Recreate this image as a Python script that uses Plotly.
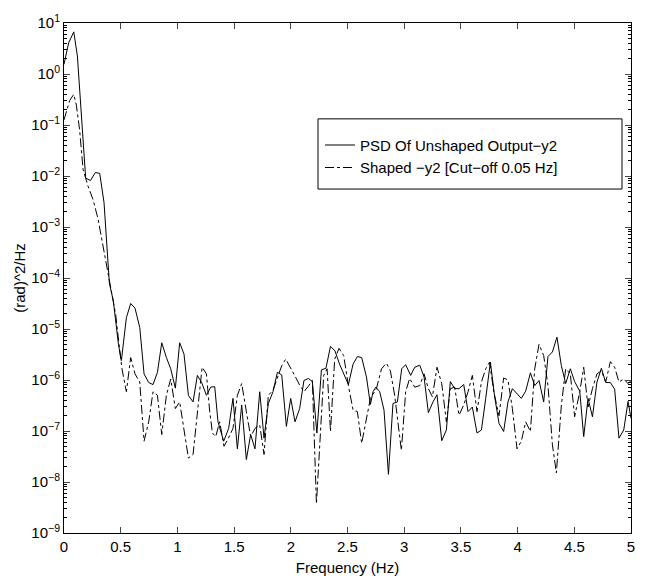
import numpy as np
import plotly.graph_objects as go

# Frequencies (Hz) and log10 PSD
freq_unshaped = [0.0, 0.041, 0.086, 0.118, 0.191, 0.233, 0.277, 0.315, 0.353, 0.40, 0.435, 0.455, 0.48,
                 0.506, 0.55, 0.588, 0.626, 0.668, 0.706, 0.747, 0.785, 0.824, 0.862, 0.903, 0.941, 0.982,
                 1.02, 1.058, 1.097, 1.138, 1.176, 1.214, 1.256, 1.294, 1.329, 1.358, 1.408, 1.452, 1.49,
                 1.529, 1.567, 1.608, 1.646, 1.684, 1.726, 1.764, 1.802, 1.843, 1.882, 1.92, 1.961, 1.999,
                 2.037, 2.078, 2.116, 2.155, 2.19, 2.23, 2.27, 2.31, 2.35, 2.39, 2.43, 2.508, 2.549, 2.587,
                 2.625, 2.667, 2.702, 2.725, 2.75, 2.784, 2.822, 2.861, 2.901, 2.94, 2.978, 3.013, 3.057,
                 3.093, 3.137, 3.175, 3.213, 3.254, 3.289, 3.331, 3.372, 3.407, 3.445, 3.483, 3.525, 3.563,
                 3.601, 3.642, 3.681, 3.719, 3.76, 3.798, 3.836, 3.877, 3.915, 3.954, 3.995, 4.033, 4.071,
                 4.113, 4.151, 4.189, 4.23, 4.268, 4.307, 4.347, 4.386, 4.424, 4.465, 4.503, 4.548, 4.583,
                 4.621, 4.66, 4.70, 4.739, 4.777, 4.818, 4.856, 4.894, 4.936, 4.974, 5.0]
log_psd_unshaped = [0.19, 0.61, 0.826, 0.355, -2.04, -2.09, -1.93, -1.95, -2.52, -4.1, -4.45, -4.85, -5.3,
                    -5.62, -4.78, -4.50, -4.59, -4.97, -5.88, -6.05, -6.09, -5.85, -5.27, -5.56, -5.78, -6.16,
                    -5.27, -5.49, -6.30, -6.43, -5.91, -6.05, -6.30, -6.14, -6.13, -6.82, -7.20, -6.95, -6.36,
                    -7.35, -6.49, -7.56, -7.07, -7.35, -6.23, -7.14, -6.46, -6.23, -5.85, -5.90, -6.91, -6.36,
                    -6.82, -6.56, -6.01, -5.97, -6.03, -7.04, -5.80, -5.77, -5.34, -5.43, -5.69, -6.09, -5.69, -5.54,
                    -5.56, -5.94, -6.48, -6.23, -6.14, -6.23, -6.59, -7.85, -6.46, -6.43, -5.78, -5.70, -5.91,
                    -5.75, -5.71, -5.94, -6.64, -6.43, -6.29, -7.19, -6.98, -6.03, -6.17, -6.17, -6.09, -6.62,
                    -6.53, -7.04, -6.98, -6.36, -5.65, -6.33, -6.85, -7.01, -6.43, -6.17, -6.27, -6.36, -6.22,
                    -5.86, -6.11, -6.01, -6.43, -5.54, -5.45, -5.16, -5.72, -6.07, -5.78, -6.03, -6.22, -7.11,
                    -6.36, -6.72, -6.04, -5.77, -6.05, -6.05, -6.18, -7.14, -6.98, -6.42, -6.75]

freq_shaped = [0.0, 0.05, 0.086, 0.109, 0.138, 0.168, 0.212, 0.256, 0.30, 0.339, 0.374, 0.409, 0.432, 0.456,
               0.485, 0.511, 0.55, 0.588, 0.626, 0.668, 0.706, 0.747, 0.785, 0.824, 0.862, 0.903, 0.941, 0.982,
               1.02, 1.058, 1.097, 1.138, 1.176, 1.218, 1.256, 1.285, 1.309, 1.338, 1.373, 1.411, 1.45, 1.49,
               1.529, 1.567, 1.608, 1.646, 1.684, 1.726, 1.764, 1.802, 1.843, 1.882, 1.92, 1.955, 1.99, 2.034,
               2.078, 2.116, 2.155, 2.19, 2.226, 2.257, 2.29, 2.32, 2.35, 2.387, 2.425, 2.466, 2.508, 2.549,
               2.587, 2.625, 2.665, 2.702, 2.755, 2.80, 2.843, 2.878, 2.916, 2.954, 2.975, 3.013, 3.048, 3.093,
               3.137, 3.175, 3.213, 3.249, 3.289, 3.331, 3.372, 3.407, 3.445, 3.483, 3.525, 3.563, 3.601, 3.642,
               3.681, 3.719, 3.753, 3.79, 3.836, 3.877, 3.915, 3.954, 3.995, 4.033, 4.071, 4.113, 4.151, 4.189,
               4.23, 4.268, 4.307, 4.342, 4.386, 4.424, 4.465, 4.503, 4.548, 4.583, 4.621, 4.66, 4.70, 4.739,
               4.777, 4.818, 4.856, 4.894, 4.936, 4.974, 5.0]
log_psd_shaped = [-0.9, -0.52, -0.40, -0.61, -1.10, -1.87, -2.20, -2.46, -2.84, -3.30, -3.68, -4.14, -4.40, -4.72,
                  -5.30, -5.78, -6.23, -5.56, -5.88, -6.04, -7.20, -6.82, -6.23, -6.30, -7.07, -6.30, -5.98, -6.56,
                  -6.43, -7.01, -7.53, -7.46, -6.62, -5.75, -5.88, -6.62, -7.04, -7.11, -6.82, -7.30, -7.14, -6.95,
                  -6.30, -6.07, -6.62, -7.11, -6.95, -6.88, -7.46, -6.30, -6.20, -5.94, -5.72, -5.59, -5.72, -5.91,
                  -6.10, -6.23, -6.12, -6.01, -8.43, -7.14, -5.91, -5.78, -7.01, -5.59, -5.38, -5.52, -6.11, -6.59,
                  -6.62, -7.24, -6.75, -6.36, -6.17, -5.78, -5.67, -5.82, -6.30, -6.95, -7.38, -6.23, -5.97, -6.14,
                  -6.11, -5.88, -6.17, -6.33, -5.75, -6.07, -6.82, -6.17, -6.14, -6.69, -6.49, -6.23, -5.91, -6.62,
                  -6.04, -5.78, -5.65, -6.23, -6.70, -5.96, -6.00, -6.56, -7.35, -7.20, -6.82, -7.01, -5.78, -5.30,
                  -5.52, -6.11, -7.27, -7.82, -6.49, -5.78, -5.88, -6.72, -6.23, -5.75, -6.53, -6.17, -5.88, -5.82,
                  -6.04, -5.64, -5.75, -6.04, -5.98, -6.07, -6.01]

series_names = ["PSD Of Unshaped Output\u2212y2", "Shaped \u2212y2 [Cut\u2212off 0.05 Hz]"]
x_ticks = [0, 0.5, 1, 1.5, 2, 2.5, 3, 3.5, 4, 4.5, 5]
y_tick_exponents = [-9, -8, -7, -6, -5, -4, -3, -2, -1, 0, 1]
minor_mantissas = [2, 3, 4, 5, 6, 7, 8, 9]

FONT = "Liberation Sans, Arial, sans-serif"
FS = 15

y_major_vals = [10.0 ** e for e in y_tick_exponents]
y_major_text = ["10<sup>%s</sup>" % (str(e).replace("-", "\u2212")) for e in y_tick_exponents]
y_minor_vals = [m * 10.0 ** e for e in y_tick_exponents[:-1] for m in minor_mantissas]

fig = go.Figure()
fig.add_trace(go.Scatter(x=freq_unshaped, y=np.power(10.0, log_psd_unshaped), mode="lines",
                         name=series_names[0], line=dict(color="black", width=1, dash="solid")))
fig.add_trace(go.Scatter(x=freq_shaped, y=np.power(10.0, log_psd_shaped), mode="lines",
                         name=series_names[1], line=dict(color="black", width=1, dash="dashdot")))
# empty trace so the minor-tick axis is drawn
fig.add_trace(go.Scatter(x=[None], y=[None], yaxis="y2", mode="lines", showlegend=False,
                         hoverinfo="skip"))

# legend frame
fig.add_shape(type="rect", xref="paper", yref="paper",
              x0=(318 - 64) / 567, x1=(622 - 64) / 567,
              y0=1 - (188 - 20) / 516, y1=1 - (117 - 20) / 516,
              line=dict(color="black", width=1), fillcolor="white", layer="below")

fig.update_layout(
    width=649, height=586,
    margin=dict(l=64, r=18, t=20, b=50),
    paper_bgcolor="white", plot_bgcolor="white",
    font=dict(family=FONT, size=FS, color="black"),
    showlegend=True,
    legend=dict(x=(320 - 64) / 567, y=1 - (127 - 20) / 516, xanchor="left", yanchor="top",
                bgcolor="rgba(0,0,0,0)", borderwidth=0, font=dict(family=FONT, size=FS),
                tracegroupgap=0, itemwidth=30),
    xaxis=dict(range=[0, 5], tickvals=x_ticks, ticks="inside", ticklen=6, mirror="ticks",
               showline=True, linecolor="black", linewidth=1, showgrid=False, zeroline=False,
               title=dict(text="Frequency (Hz)", standoff=8, font=dict(size=FS)),
               tickfont=dict(size=FS)),
    yaxis=dict(type="log", range=[-9, 1], tickvals=y_major_vals, ticktext=y_major_text,
               ticks="inside", ticklen=6,
               mirror="ticks", showline=True, linecolor="black", linewidth=1, showgrid=False,
               zeroline=False, tickfont=dict(size=FS),
               title=dict(text="(rad)^2/Hz", standoff=2, font=dict(size=FS))),
    yaxis2=dict(type="log", range=[-9, 1], tickvals=y_minor_vals, ticks="inside", ticklen=3,
                tickcolor="black", mirror="ticks", showline=True, linecolor="black", linewidth=1,
                showgrid=False, zeroline=False,
                showticklabels=False, overlaying="y", side="left", anchor="x"),
)

fig.write_html("out.html")
